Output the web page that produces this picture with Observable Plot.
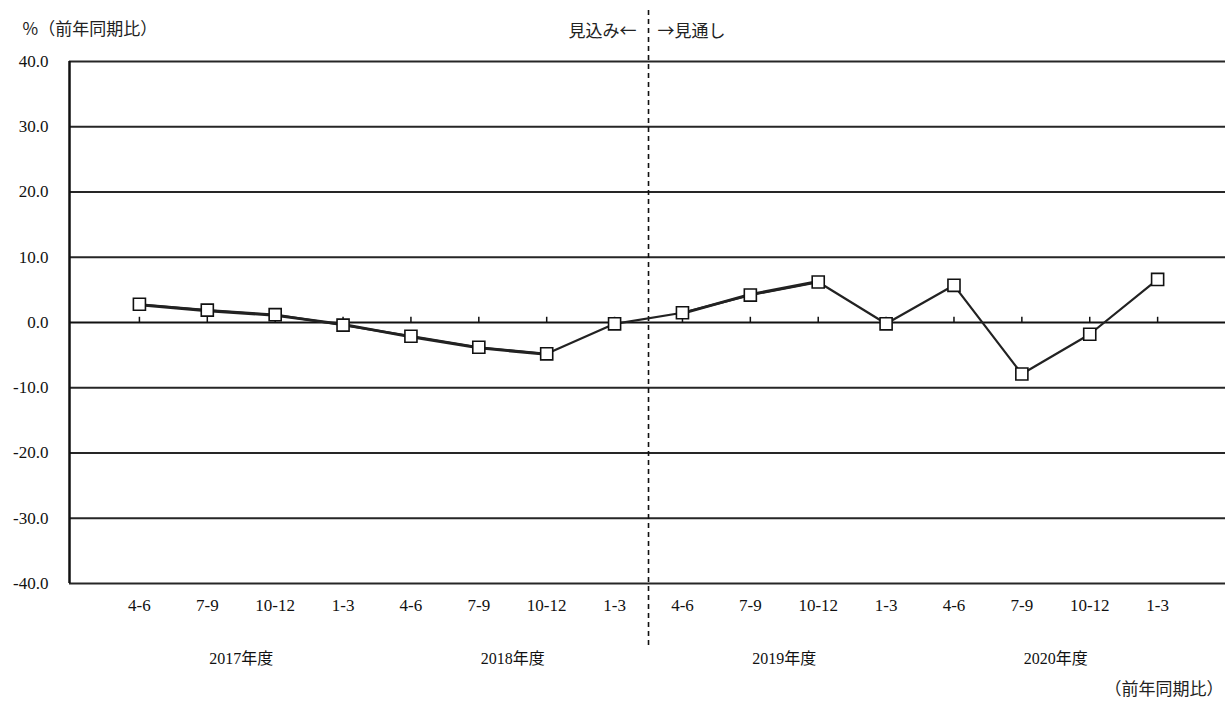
<!DOCTYPE html>
<html>
<head>
<meta charset="utf-8">
<script src="https://cdn.jsdelivr.net/npm/d3@7"></script>
<script src="https://cdn.jsdelivr.net/npm/@observablehq/plot@0.6"></script>
<style>
  html, body { margin: 0; padding: 0; background: #fff; }
  #chart svg { display: block; }
</style>
</head>
<body>
<div id="chart"></div>
<script>
// ---- data ----
const quarters = ["4-6","7-9","10-12","1-3","4-6","7-9","10-12","1-3","4-6","7-9","10-12","1-3","4-6","7-9","10-12","1-3"];
const fiscalYears = ["2017年度","2018年度","2019年度","2020年度"];
const values = [2.8, 1.9, 1.2, -0.4, -2.1, -3.8, -4.8, -0.2, 1.5, 4.2, 6.2, -0.2, 5.7, -7.9, -1.8, 6.6];
// earlier estimate, overlapping the current one through 2019 10-12 (segment groups)
const priorValues = [2.7, 1.8, 1.1, -0.3, -2.2, -3.9, -4.9, null, 1.4, 4.3, 6.3];
const priorGroups = ["a","a","a","a","a","a","a", null, "b","b","b"];
const yTicks = [40, 30, 20, 10, 0, -10, -20, -30, -40];
const unitLabel = "%（前年同期比）";
const leftNote = "見込み←";
const rightNote = "→見通し";
const footNote = "（前年同期比）";

const series = values.map((v, i) => ({i, v, q: quarters[i]}));
const prior = priorValues.map((v, i) => ({i, v, g: priorGroups[i]})).filter(d => d.v != null);
const years = fiscalYears.map((y, k) => ({y, i: k * 4 + 1.5}));
const FONT = "'Liberation Serif', 'Noto Sans CJK JP', serif";
const JFONT = "'Noto Sans CJK JP', sans-serif";

const chart = Plot.plot({
  width: 1225,
  height: 706,
  marginLeft: 69,
  marginRight: 0,
  marginTop: 61,
  marginBottom: 123,
  style: {fontFamily: FONT, fontSize: "15px", color: "#222", background: "#fff"},
  x: {type: "linear", domain: [-1.03, 16], axis: null},
  y: {type: "linear", domain: [-40, 40], axis: null},
  marks: [
    // gridlines
    Plot.ruleY(yTicks.filter(t => t !== 0), {y: d => d, stroke: "#262626", strokeWidth: 2}),
    Plot.ruleY([0], {y: d => d, stroke: "#111", strokeWidth: 2}),
    // y axis line
    Plot.ruleX([-1.03], {x: d => d, y1: -40, y2: 40, stroke: "#111", strokeWidth: 2.5}),
    // y tick labels
    Plot.text(yTicks, {x: -1.03, y: d => d, text: d => d.toFixed(1), textAnchor: "end", dx: -21, fontSize: 17, fill: "#111"}),
    // small tick marks above zero line
    Plot.ruleX(series, {x: "i", y1: 0, y2: 0.8, stroke: "#111", strokeWidth: 1.5}),
    // dashed divider
    Plot.ruleX([7.5], {x: d => d, y1: -49.5, y2: 48.3, stroke: "#111", strokeWidth: 1.6, strokeDasharray: "5,4", clip: false}),
    // lines
    Plot.line(prior, {x: "i", y: "v", z: "g", stroke: "#222", strokeWidth: 2.8}),
    Plot.line(series, {x: "i", y: "v", stroke: "#222", strokeWidth: 2.2}),
    // markers
    Plot.dot(series, {x: "i", y: "v", symbol: "square", r: 6.8, fill: "#fff", stroke: "#111", strokeWidth: 1.6}),
    // quarter labels
    Plot.text(series, {x: "i", y: -40, text: "q", dy: 22, fontSize: 17, fill: "#111"}),
    // year labels
    Plot.text(years, {x: "i", y: -40, text: "y", dy: 75, fontSize: 16, fill: "#111"}),
    // top annotations
    Plot.text([leftNote], {x: 7.5, y: 40, text: d => d, textAnchor: "end", dx: -12, dy: -30, fontSize: 17, fontFamily: JFONT, fill: "#222"}),
    Plot.text([rightNote], {x: 7.5, y: 40, text: d => d, textAnchor: "start", dx: 9, dy: -30, fontSize: 17, fontFamily: JFONT, fill: "#222"}),
    Plot.text([unitLabel], {frameAnchor: "top-left", text: d => d, dx: -47, dy: -39, textAnchor: "start", fontSize: 17, fontFamily: JFONT, fill: "#222"}),
    Plot.text([footNote], {frameAnchor: "bottom-right", text: d => d, dx: -2, dy: 111, textAnchor: "end", fontSize: 17, fontFamily: JFONT, fill: "#222"})
  ]
});
document.getElementById("chart").appendChild(chart);
</script>
</body>
</html>
